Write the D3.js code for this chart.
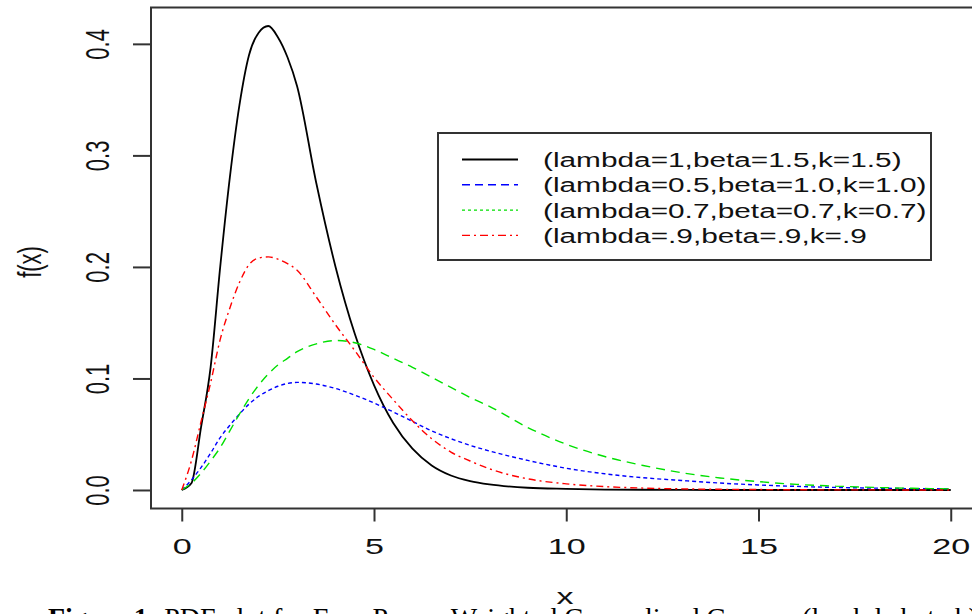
<!DOCTYPE html>
<style>

body {
  margin: 0;
  padding: 0;
  background: #fff;
}

svg {
  display: block;
  font-family: "Liberation Sans", Arial, sans-serif;
}

.axis .domain {
  display: none;
}

</style>
<svg width="972" height="614"></svg>
<script src="https://d3js.org/d3.v7.min.js"></script>
<script>

// values, one x grid shared by all four curves
var xGrid = [0, 0.25, 0.5, 0.75, 1, 1.25, 1.5, 1.75, 2, 2.25, 2.5, 2.75, 3, 3.5, 4, 4.5,
             5, 5.5, 6, 6.5, 7, 7.5, 8, 9, 10, 11, 12, 13, 14, 15, 16, 17, 18, 19, 20];

var blackVals = [0, 0.006, 0.056, 0.11, 0.2, 0.28, 0.345, 0.39, 0.41, 0.416, 0.406, 0.388, 0.362,
                 0.275, 0.2, 0.14, 0.094, 0.06, 0.037, 0.022, 0.013, 0.008, 0.005, 0.002, 0.001,
                 0.0004, 0.0002, 0.0001, 0, 0, 0, 0, 0, 0, 0];
var blueVals  = [0, 0.009, 0.02, 0.033, 0.047, 0.058, 0.068, 0.077, 0.084, 0.089, 0.093, 0.0955, 0.0965,
                 0.095, 0.091, 0.085, 0.078, 0.07, 0.0615, 0.053, 0.046, 0.04, 0.035, 0.0265, 0.0195,
                 0.0145, 0.011, 0.0085, 0.0062, 0.0045, 0.0032, 0.0023, 0.0017, 0.0012, 0.001];
var greenVals = [0, 0.006, 0.015, 0.026, 0.038, 0.053, 0.068, 0.082, 0.094, 0.104, 0.112, 0.118, 0.124,
                 0.131, 0.134, 0.132, 0.126, 0.118, 0.11, 0.101, 0.092, 0.083, 0.075, 0.056, 0.041,
                 0.03, 0.022, 0.0155, 0.0108, 0.0075, 0.005, 0.0035, 0.0023, 0.0015, 0.001];
var redVals   = [0, 0.026, 0.061, 0.096, 0.135, 0.163, 0.186, 0.202, 0.208, 0.209, 0.207, 0.203, 0.197,
                 0.173, 0.148, 0.125, 0.101, 0.081, 0.062, 0.046, 0.034, 0.026, 0.019, 0.01, 0.0055,
                 0.003, 0.0017, 0.001, 0.0006, 0.0004, 0.0002, 0.0001, 0.0001, 0, 0];

var seriesNames = ["(lambda=1,beta=1.5,k=1.5)", "(lambda=0.5,beta=1.0,k=1.0)",
                   "(lambda=0.7,beta=0.7,k=0.7)", "(lambda=.9,beta=.9,k=.9"];

var xTicks = [0, 5, 10, 15, 20];
var yTicks = [0, 0.1, 0.2, 0.3, 0.4];

var series = [
  {name: seriesNames[0], vals: blackVals, color: "#000000", width: 1.8, dash: null,        legDash: null},
  {name: seriesNames[1], vals: blueVals,  color: "#0000ff", width: 1.4, dash: "4,3",       legDash: "8,5"},
  {name: seriesNames[2], vals: greenVals, color: "#00e000", width: 1.4, dash: "9,6",       legDash: "3,3"},
  {name: seriesNames[3], vals: redVals,   color: "#ff0000", width: 1.4, dash: "7,4,2,4",   legDash: "8,4,2,4"}
];

var svg = d3.select("svg"),
    box = {left: 151, top: 7.5, right: 981.5, bottom: 508.5},
    stretch = 1.55;   // the picture is wider than tall, text included

var x = d3.scaleLinear()
    .domain([-0.8, 20.8])
    .range([box.left, box.right]);

var y = d3.scaleLinear()
    .domain([-0.0166, 0.4326])
    .range([box.bottom, box.top]);

var line = d3.line()
    .x(function(d) { return x(d[0]); })
    .y(function(d) { return y(d[1]); })
    .curve(d3.curveMonotoneX);

svg.append("g")
  .selectAll("path")
  .data(series)
  .enter().append("path")
    .attr("fill", "none")
    .attr("stroke", function(d) { return d.color; })
    .attr("stroke-width", function(d) { return d.width; })
    .attr("stroke-dasharray", function(d) { return d.dash; })
    .attr("d", function(d) {
      return line(xGrid.map(function(v, i) { return [v, d.vals[i]]; }));
    });

// frame
svg.append("rect")
    .attr("x", box.left)
    .attr("y", box.top)
    .attr("width", box.right - box.left)
    .attr("height", box.bottom - box.top)
    .attr("fill", "none")
    .attr("stroke", "#333")
    .attr("stroke-width", 2);

var xAxis = svg.append("g")
    .attr("class", "axis")
    .attr("transform", "translate(0," + box.bottom + ")")
    .call(d3.axisBottom(x).tickValues(xTicks).tickSize(13).tickFormat(d3.format("d")));

xAxis.selectAll("line").attr("stroke", "#333").attr("stroke-width", 2);
xAxis.selectAll("text")
    .attr("y", 46)
    .attr("dy", 0)
    .attr("fill", "#111")
    .attr("font-size", 22)
    .attr("font-family", "Liberation Sans, Arial, sans-serif")
    .attr("transform", "scale(" + stretch + ",1)");

var yAxis = svg.append("g")
    .attr("class", "axis")
    .attr("transform", "translate(" + box.left + ",0)")
    .call(d3.axisLeft(y).tickValues(yTicks).tickSize(18).tickFormat(d3.format(".1f")));

yAxis.selectAll("line").attr("stroke", "#333").attr("stroke-width", 2);
yAxis.selectAll("text")
    .attr("x", 0)
    .attr("dy", "0.36em")
    .attr("text-anchor", "middle")
    .attr("fill", "#111")
    .attr("font-size", 22)
    .attr("font-family", "Liberation Sans, Arial, sans-serif")
    .attr("transform", "translate(-54,0) scale(" + stretch + ",1) rotate(-90)");

// axis titles
svg.append("text")
    .attr("transform", "translate(565,604) scale(" + stretch + ",1)")
    .attr("text-anchor", "middle")
    .attr("font-size", 22)
    .attr("fill", "#111")
    .text("x");

svg.append("text")
    .attr("transform", "translate(29,262) scale(" + stretch + ",1) rotate(-90)")
    .attr("text-anchor", "middle")
    .attr("dy", "0.36em")
    .attr("font-size", 22)
    .attr("fill", "#111")
    .text("f(x)");

// legend
var legend = svg.append("g");

legend.append("rect")
    .attr("x", 438)
    .attr("y", 133)
    .attr("width", 493)
    .attr("height", 127)
    .attr("fill", "#fff")
    .attr("stroke", "#333")
    .attr("stroke-width", 2);

var item = legend.selectAll("g.item")
    .data(series)
    .enter().append("g")
      .attr("class", "item")
      .attr("transform", function(d, i) { return "translate(0," + (159.5 + i * 25.3) + ")"; });

item.append("line")
    .attr("x1", 462)
    .attr("x2", 518)
    .attr("stroke", function(d) { return d.color; })
    .attr("stroke-width", function(d) { return d.width; })
    .attr("stroke-dasharray", function(d) { return d.legDash; });

item.append("text")
    .attr("transform", "translate(543,0) scale(1.42,1)")
    .attr("dy", "0.36em")
    .attr("font-size", 21)
    .attr("fill", "#111")
    .text(function(d) { return d.name; });

// caption of the figure, cut off by the bottom edge
var caption = svg.append("text")
    .attr("x", 48)
    .attr("y", 627)
    .attr("font-family", "Liberation Serif, Times New Roman, serif")
    .attr("font-size", 28)
    .attr("fill", "#000");

caption.append("tspan")
    .attr("font-weight", "bold")
    .text("Figure 1: ");
caption.append("tspan")
    .text("PDF plot for Four Param Weighted Generalized Gamma (lambda,beta,k)");

</script>
